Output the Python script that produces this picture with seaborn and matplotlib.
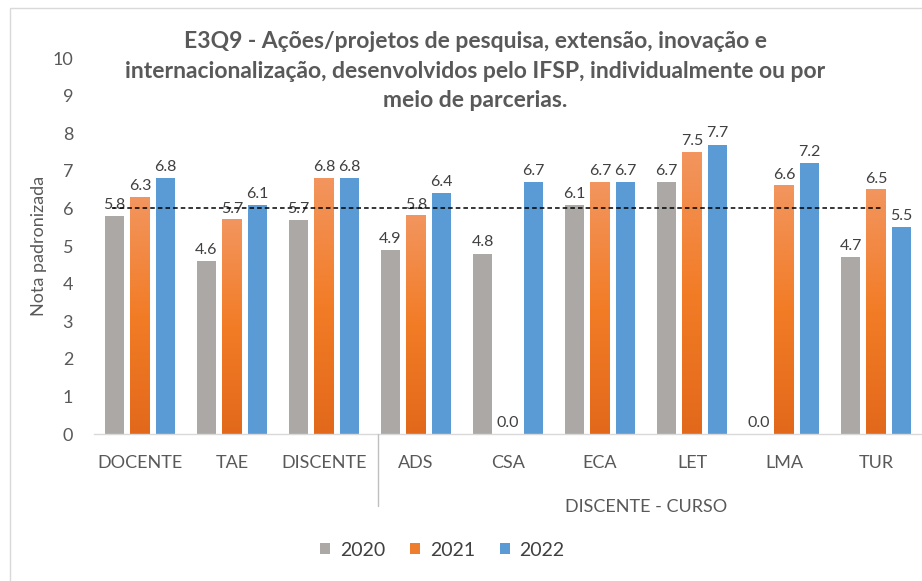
import numpy as np
import pandas as pd
import matplotlib
matplotlib.use('Agg')
import matplotlib.pyplot as plt
from matplotlib.colors import LinearSegmentedColormap
from matplotlib.patches import Patch, Rectangle
from matplotlib.lines import Line2D
import seaborn as sns

# Data
categorias = ['DOCENTE', 'TAE', 'DISCENTE', 'ADS', 'CSA', 'ECA', 'LET', 'LMA', 'TUR']
anos = ['2020', '2021', '2022']
notas_2020 = [5.8, 4.6, 5.7, 4.9, 4.8, 6.1, 6.7, 0.0, 4.7]
notas_2021 = [6.3, 5.7, 6.8, 5.8, 0.0, 6.7, 7.5, 6.6, 6.5]
notas_2022 = [6.8, 6.1, 6.8, 6.4, 6.7, 6.7, 7.7, 7.2, 5.5]
referencia = 6.0
y_ticks = list(range(0, 11))

titulo = ('E3Q9 - Ações/projetos de pesquisa, extensão, inovação e\n'
          'internacionalização, desenvolvidos pelo IFSP, individualmente ou por\n'
          'meio de parcerias.')

cores = {'2020': '#ABA8A6', '2021': '#EF7D2E', '2022': '#5B9BD5'}

df = pd.DataFrame({
    'categoria': categorias * 3,
    'ano': [a for a in anos for _ in categorias],
    'nota': notas_2020 + notas_2021 + notas_2022,
})

sns.set_style('white')
plt.rcParams['font.family'] = ['Lato', 'DejaVu Sans']

fig = plt.figure(figsize=(9.22, 5.81), dpi=100)
ax = fig.add_axes([94 / 922, 0.253, 828 / 922, 0.647])

sns.barplot(data=df, x='categoria', y='nota', hue='ano', order=categorias,
            hue_order=anos, palette=cores, saturation=1, width=0.83, gap=0.22,
            linewidth=0, errorbar=None, legend=False, ax=ax)

# gradient on the 2021 bars, like the Excel fill
grad_cmap = LinearSegmentedColormap.from_list('laranja', ['#E2691B', '#F27C26', '#F2955E'])
for p in ax.containers[1].patches:
    h = p.get_height()
    if h <= 0:
        continue
    x = p.get_x()
    w = p.get_width()
    p.set_facecolor('none')
    grad = np.linspace(0, 1, 100).reshape(-1, 1)
    ax.imshow(grad, extent=[x, x + w, 0, h], origin='lower', aspect='auto',
              cmap=grad_cmap, zorder=p.get_zorder())

for cont in ax.containers:
    ax.bar_label(cont, fmt='%.1f', padding=3, fontsize=11.5, color='#404040')

# reference line at 6
ax.plot([-0.30, 8.08], [referencia, referencia], color='black', linestyle=(0, (3, 2)),
        linewidth=1.1, zorder=3)

ax.set_xlim(-0.5, len(categorias) - 0.5)
ax.set_ylim(0, 10)
ax.set_yticks(y_ticks)
ax.set_xlabel('')
ax.set_ylabel('Nota padronizada', fontsize=13, color='#595959', labelpad=4)
ax.tick_params(axis='x', length=0, pad=15, labelsize=13, labelcolor='#595959')
ax.tick_params(axis='y', length=0, pad=15, labelsize=13, labelcolor='#595959')
for s in ['top', 'right', 'left']:
    ax.spines[s].set_visible(False)
ax.spines['bottom'].set_color('#D9D9D9')
ax.spines['bottom'].set_linewidth(1)

# group separator and group label
fig.add_artist(Line2D([378 / 922, 378 / 922], [(581 - 434) / 581, (581 - 506) / 581],
                      color='#BFBFBF', linewidth=1))
ax.text(5.5, -0.194, 'DISCENTE - CURSO', transform=ax.get_xaxis_transform(),
        ha='center', va='center', fontsize=13, color='#595959')

fig.text(475 / 922, (581 - 71) / 581, titulo, ha='center', va='center',
         fontsize=16.5, fontweight='bold', color='#595959', linespacing=1.5)

handles = [Patch(facecolor=cores[a], edgecolor='none') for a in anos]
fig.legend(handles, anos, loc='center', bbox_to_anchor=(0.48, 0.053), ncol=3,
           frameon=False, fontsize=14, handlelength=0.5, handleheight=0.5,
           handletextpad=0.5, columnspacing=1.3, labelcolor='#404040')

# outer chart frame (partly cut off at the right and bottom)
fig.add_artist(Rectangle((10 / 922, -0.2), 1.2, 0.2 + (581 - 8) / 581,
                         transform=fig.transFigure, fill=False,
                         edgecolor='#D9D9D9', linewidth=1))

fig.savefig('out.png', dpi=100)
